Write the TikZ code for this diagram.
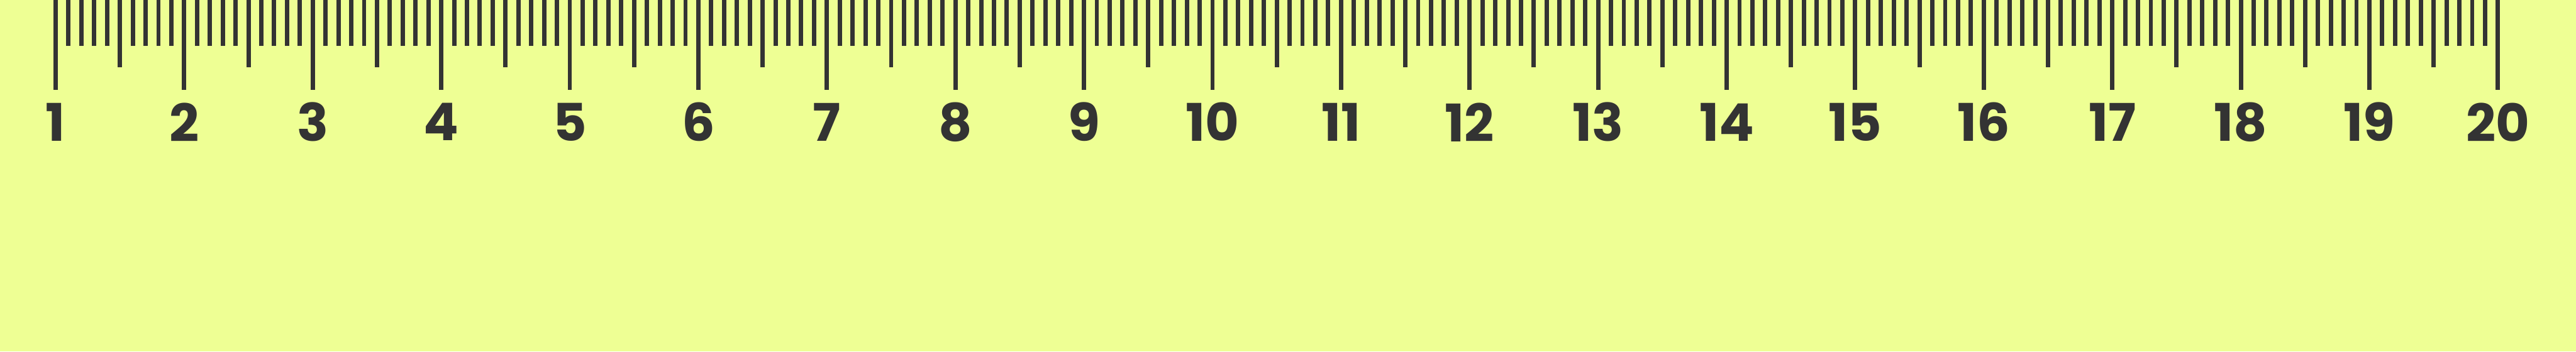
\documentclass[tikz,border=0pt]{standalone}
\usepackage{fontspec}
\setmainfont{Poppins}
\usepackage{xcolor}
\definecolor{rulerbg}{RGB}{238,255,148}
\definecolor{inkgray}{RGB}{51,51,51}

\begin{document}
\begin{tikzpicture}[x=1cm, y=1cm,
    tickmark/.style={fill=inkgray},
    num/.style={font=\fontsize{34}{34}\selectfont\bfseries, text=inkgray,
      inner sep=0pt, anchor=center}
  ]
  \fill[rulerbg] (0,0) rectangle (59.26,8.09);
  \useasboundingbox (0,0) rectangle (59.26,8.09);
  % small ticks every tenth
  \foreach \k in {0,...,190}
    \fill[tickmark] ({1.23+\k*0.2957},8.09) rectangle ++(0.10,-1.05);
  % half ticks
  \foreach \k in {5,15,...,185}
    \fill[tickmark] ({1.23+\k*0.2957},8.09) rectangle ++(0.10,-1.55);
  % whole units with numbers
  \foreach \i in {1,...,20} {
    \fill[tickmark] ({1.23+(\i-1)*2.957},8.09) rectangle ++(0.10,-2.07);
    \node[num] (n\i) at ({1.28+(\i-1)*2.957},5.28) {\i};
  }
\end{tikzpicture}
\end{document}
